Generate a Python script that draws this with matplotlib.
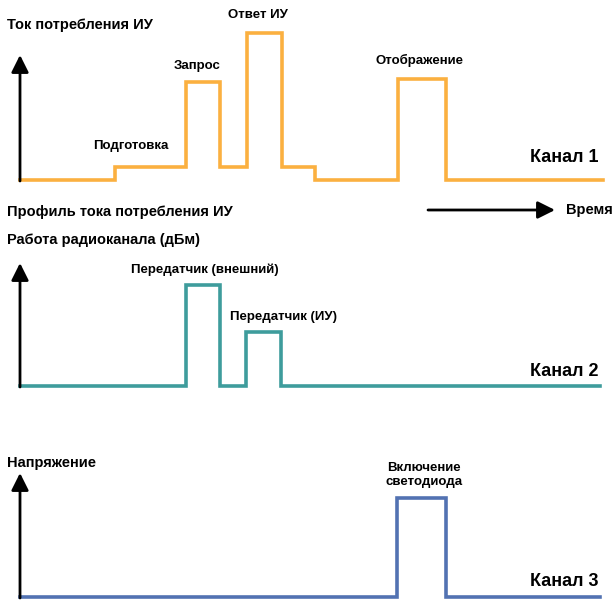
import matplotlib.pyplot as plt

# --- data (time axis and levels in figure units, y grows downward) ---
t1 = [20, 115, 186, 220, 247, 282, 315, 398, 446, 603]
lvl1 = [180, 167, 82, 167, 33, 167, 180, 79, 180, 180]

t2 = [20, 186, 220, 246, 281, 600]
lvl2 = [386, 285, 386, 332, 386, 386]

t3 = [20, 397, 446, 600]
lvl3 = [597, 498, 597, 597]

ch1_labels = ["Подготовка", "Запрос", "Ответ ИУ", "Отображение"]
ch1_label_pos = [(131, 146), (197, 66), (258, 15), (419, 60)]
ch2_labels = ["Передатчик (внешний)", "Передатчик (ИУ)"]
ch2_label_pos = [(205, 270), (283, 317)]
ch3_labels = ["Включение\nсветодиода"]
ch3_label_pos = [(424, 475)]

channel_names = ["Канал 1", "Канал 2", "Канал 3"]
channel_name_y = [158, 372, 582]
axis_titles = ["Ток потребления ИУ", "Работа радиоканала (дБм)", "Напряжение"]
axis_title_y = [25, 240, 463]
axis_tip_y = [55, 263, 473]
axis_base_y = [181, 387, 598]

colors = ["#FBB040", "#3E9C9C", "#5272B2"]

plt.rcParams['font.family'] = ['Liberation Sans', 'DejaVu Sans']

fig = plt.figure(figsize=(6.16, 6.01), dpi=100)
ax = fig.add_axes([0, 0, 1, 1])
ax.set_xlim(0, 616)
ax.set_ylim(601, 0)
ax.axis('off')

# waveforms
for t, lvl, c in zip([t1, t2, t3], [lvl1, lvl2, lvl3], colors):
    ax.step(t, lvl, where='post', color=c, lw=2.6, solid_joinstyle='miter')

# vertical axes with arrows
arrow_kw = dict(arrowstyle='-|>,head_length=0.4,head_width=0.2', color='black',
                lw=2, mutation_scale=26, shrinkA=0, shrinkB=0)
for base, tip in zip(axis_base_y, axis_tip_y):
    ax.annotate("", xy=(20, tip), xytext=(20, base), arrowprops=arrow_kw)

# time arrow
ax.annotate("", xy=(555, 210), xytext=(428, 210), arrowprops=arrow_kw)
ax.text(566, 210, "Время", fontsize=10.5, fontweight='bold', va='center', ha='left')

ax.text(7, 212, "Профиль тока потребления ИУ", fontsize=10.5, fontweight='bold',
        va='center', ha='left')

for title, y in zip(axis_titles, axis_title_y):
    ax.text(7, y, title, fontsize=10.5, fontweight='bold', va='center', ha='left')

for name, y in zip(channel_names, channel_name_y):
    ax.text(599, y, name, fontsize=13, fontweight='bold', va='center', ha='right')

for labels, pos in zip([ch1_labels, ch2_labels, ch3_labels],
                       [ch1_label_pos, ch2_label_pos, ch3_label_pos]):
    for lab, (x, y) in zip(labels, pos):
        ax.text(x, y, lab, fontsize=9.5, fontweight='bold', va='center',
                ha='center', linespacing=1.3)

fig.savefig("out.png", dpi=100)
